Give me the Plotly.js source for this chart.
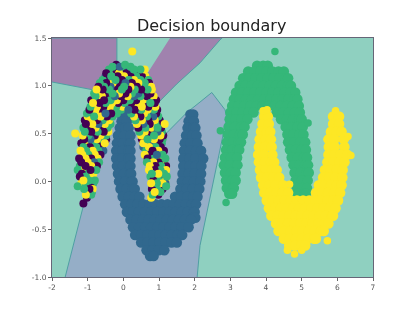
<!DOCTYPE html>
<html><head><meta charset="utf-8">
<script src="https://cdn.plot.ly/plotly-3.0.1.min.js"></script>
<style>html,body{margin:0;padding:0;background:#fff}#c{width:415px;height:312px;filter:blur(0.4px)}</style>
</head><body><div id="c"></div>
<script>
const xTicks=[-2,-1,0,1,2,3,4,5,6,7];
const yTicks=[-1,-0.5,0,0.5,1,1.5];
const yTickText=['-1.0','-0.5','0.0','0.5','1.0','1.5'];
const regionLeftX=[-2,-0.18,-0.18,-0.5,-0.88,-2];
const regionLeftY=[1.5,1.5,1.2,1.08,0.96,1.04];
const regionRightX=[1.31,2.77,2.71,2.15,1.5,0.97,0.69];
const regionRightY=[1.5,1.5,1.48,1.24,1.02,0.82,1.14];
const regionLowX=[-1.63,-1.13,-0.85,-0.5,0.3,0.9,1.17,1.78,2.15,2.48,2.85,2.9,2.62,2.15,2.07];
const regionLowY=[-1,-0.27,0.3,0.82,0.9,0.75,0.49,0.72,0.83,0.93,0.75,0.67,0.17,-0.67,-1];
// rows: first value is y, the others are x
const blueRows=[
[0.7,-0.05,0.08,1.88,1.96],[0.63,-0.05,0.1,1.83,1.98],[0.56,-0.1,0.05,0.15,1.8,1.97,2.02],
[0.48,-0.15,0.02,0.2,1.76,1.93,2.05],[0.4,-0.18,-0.01,0.16,0.2,1.72,1.89,2.08],
[0.32,-0.2,-0.03,0.14,0.2,1.7,1.87,2.04,2.18],[0.24,-0.2,-0.03,0.14,0.2,1.68,1.85,2.02,2.24],
[0.16,-0.18,-0.01,0.16,0.2,1.68,1.85,2.02,2.19],[0.08,-0.15,0.02,0.19,0.22,1.66,1.83,2,2.18],
[0,-0.12,0.05,0.22,0.26,1.64,1.81,1.98,2.16],[-0.08,-0.08,0.09,0.26,0.32,1.6,1.77,1.94,2.13],
[-0.16,-0.02,0.15,0.32,0.45,1.45,1.62,1.79,1.96,2.08],
[-0.24,0.05,0.22,0.39,0.56,0.73,0.9,1.07,1.24,1.41,1.58,1.75,1.92,2.04],
[-0.32,0.1,0.27,0.44,0.61,0.78,0.95,1.12,1.29,1.46,1.63,1.8,1.97,2],
[-0.38,1.95,2.02],
[-0.4,0.2,0.37,0.54,0.71,0.88,1.05,1.22,1.39,1.56,1.73,1.9],
[-0.48,0.27,0.44,0.61,0.78,0.95,1.12,1.29,1.46,1.63,1.83],
[-0.56,0.33,0.5,0.67,0.84,1.01,1.18,1.35,1.52,1.65],
[-0.64,0.5,0.67,0.84,1.01,1.18,1.35,1.5],[-0.72,0.65,0.82,0.99,1.15],[-0.78,0.75,0.85]];
const greenRows=[
[1.21,3.75,3.92,4.05],[1.15,3.5,3.67,3.84,4.01,4.18,4.35,4.5],
[1.08,3.36,3.53,3.7,3.87,4.04,4.21,4.38,4.55,4.62],[1,3.26,3.43,3.6,3.77,3.94,4.11,4.28,4.45,4.62,4.7],
[0.93,3.16,3.33,3.5,3.67,3.84,4.01,4.18,4.35,4.52,4.69,4.82],
[0.86,3.1,3.27,3.44,3.61,3.78,3.95,4.12,4.29,4.46,4.63,4.8,4.88],
[0.79,3.05,3.22,3.39,3.56,3.73,3.9,4.07,4.24,4.41,4.58,4.75,4.92],
[0.72,3,3.17,3.34,3.51,3.65,4.3,4.47,4.64,4.81,4.95],[0.65,2.98,3.15,3.32,3.48,4.42,4.59,4.76,4.93,5],
[0.57,2.95,3.12,3.3,3.4,4.55,4.72,4.89,5.03],[0.49,2.93,3.1,3.27,3.35,4.6,4.77,4.94,5.05],
[0.41,2.9,3.07,3.24,3.3,4.62,4.79,4.96,5.1],[0.33,2.88,3.05,3.2,3.25,4.67,4.84,5,5.12],
[0.25,2.85,3.02,3.19,4.72,4.89,5.06,5.15],[0.17,2.82,2.99,3.16,3.2,4.77,4.94,5.1,5.18],
[0.09,2.85,3.02,3.15,4.8,4.97,5.14,5.2],[0.01,2.88,3.05,3.15,4.83,5,5.17],
[-0.07,2.9,3.07,3.1,4.86,5.03,5.15],[-0.13,2.97,3.05,4.9,5.07,5.12]];
const greenOutliers=[[1.36,4.25],[0.61,5.18],[0.53,2.72],[-0.17,4.82],[-0.22,2.88]];
const yellowRows=[
[0.68,3.95,4.05,5.88,6.05],[0.6,3.9,4.08,5.88,6.05],
[0.52,3.86,4.03,4.12,5.82,5.98,6.12],[0.44,3.82,3.99,4.14,5.75,5.92,6.18],
[0.36,3.8,3.97,4.16,5.76,5.93,6.2],[0.28,3.78,3.95,4.18,5.75,5.92,6.09,6.28],
[0.2,3.8,3.97,4.14,4.23,5.72,5.89,6.06,6.2],[0.12,3.83,4,4.17,4.3,5.65,5.82,5.99,6.15],
[0.04,3.86,4.03,4.2,4.37,5.6,5.77,5.94,6.14],[-0.04,3.92,4.09,4.26,4.48,5.48,5.65,5.82,5.99,6.12],
[-0.12,3.95,4.12,4.29,4.46,4.62,5.4,5.57,5.74,5.91,6.08],
[-0.2,4.02,4.19,4.36,4.53,4.7,4.87,5.04,5.21,5.38,5.55,5.72,5.89,6.02],
[-0.28,4.08,4.25,4.42,4.59,4.76,4.93,5.1,5.27,5.44,5.61,5.78,5.95],
[-0.36,4.15,4.32,4.49,4.66,4.83,5,5.17,5.34,5.51,5.68,5.85,5.88],
[-0.44,4.28,4.45,4.62,4.79,4.96,5.13,5.3,5.47,5.64,5.75],
[-0.52,4.35,4.52,4.69,4.86,5.03,5.2,5.37,5.54,5.62],
[-0.6,4.5,4.67,4.84,5.01,5.18,5.35,5.4],[-0.67,4.65,4.82,4.99,5.1]];
const yellowOutliers=[[0.74,3.92],[0.75,4.03],[0.74,5.95],[0.47,6.3],[0.27,6.38],[-0.76,4.8],[-0.72,4.6],[-0.72,5.0],[-0.62,5.72],[-0.03,4.66]];
// mixed arch: y, then pairs of x and class
const mixedRows=[
[1.22,-0.2,0,0.05,2],[1.36,0.25,3],
[1.2,-0.1,1,-0.3,2,0.2,2],
[1.17,-0.4,2,-0.22,0,-0.05,2,0.12,1,0.3,2,0.48,2,0.6,3],
[1.13,-0.48,0,-0.12,3,0.08,0,0.42,0,0.56,1],
[1.1,-0.5,1,-0.34,2,-0.16,0,0.02,3,0.2,0,0.36,2,0.52,0,0.62,3],
[1.06,-0.58,2,-0.4,0,-0.22,2,-0.04,0,0.15,2,0.3,3,0.48,2,0.7,2],
[1.03,-0.66,2,-0.48,0,-0.3,3,-0.12,2,0.06,1,0.24,0,0.42,3,0.6,2,0.72,0],
[0.99,-0.7,0,-0.54,2,-0.36,1,-0.16,0,0.02,2,0.2,3,0.38,0,0.56,2,0.78,3],
[0.96,-0.75,3,-0.58,0,-0.4,2,-0.22,0,-0.04,2,0.14,0,0.32,2,0.5,0,0.68,2,0.8,3],
[0.92,-0.82,2,-0.64,3,-0.48,0,-0.3,2,-0.12,3,0.06,0,0.24,2,0.42,1,0.6,0,0.76,0],
[0.89,-0.78,2,-0.6,3,-0.42,0,-0.24,1,-0.06,0,0.12,3,0.3,1,0.48,2,0.66,0,0.85,3],
[0.85,-0.9,0,-0.72,2,-0.54,0,-0.36,2,-0.18,3,0,0,0.18,2,0.36,0,0.54,3,0.72,2,0.92,0],
[0.82,-0.85,3,-0.67,0,-0.5,2,-0.32,3,-0.14,0,0.04,2,0.22,0,0.4,3,0.58,0,0.76,2,0.88,0],
[0.78,-0.92,2,-0.74,3,-0.56,0,-0.38,3,-0.2,2,-0.02,3,0.16,0,0.34,2,0.52,3,0.7,0,0.9,3],
[0.75,-0.95,0,-0.78,3,-0.6,0,-0.42,2,-0.24,3,-0.06,2,0.14,1,0.32,0,0.5,2,0.68,3,0.86,2,0.95,0],
[0.71,-1.02,2,-0.86,0,-0.68,3,-0.5,1,-0.34,0,-0.18,2,0.22,2,0.4,0,0.58,3,0.76,1,0.92,0],
[0.68,-1,3,-0.82,2,-0.64,3,-0.46,0,-0.3,2,0.3,3,0.48,0,0.66,2,0.84,1,0.98,2],
[0.64,-1.08,0,-0.92,3,-0.74,0,-0.58,2,-0.4,3,0.34,2,0.52,3,0.7,0,0.88,3,1.02,0],
[0.6,-1.05,0,-0.87,3,-0.7,1,-0.52,3,-0.36,2,0.38,3,0.56,1,0.74,0,0.9,2,1.16,3],
[0.56,-1.12,2,-0.96,0,-0.78,3,-0.6,0,-0.44,2,0.42,0,0.62,2,0.8,3,0.96,2,1.06,0],
[0.52,-1.08,2,-0.9,0,-0.72,2,-0.55,0,-0.42,3,0.45,2,0.6,3,0.78,0,0.96,1,1.08,2],
[0.48,-1.14,3,-0.98,2,-0.8,0,-0.64,3,-0.48,2,0.5,3,0.68,0,0.86,2,1.04,3,1.12,0],
[0.44,-1.1,0,-0.92,1,-0.74,3,-0.58,2,-0.48,0,0.52,0,0.68,2,0.86,3,1.02,0,1.1,2],
[0.5,-1.35,3],
[0.4,-1.18,0,-1.02,3,-0.84,2,-0.68,0,-0.52,3,0.56,3,0.74,1,0.92,0,1.08,2],
[0.36,-1.12,2,-0.94,0,-0.76,2,-0.6,0,0.56,1,0.72,3,0.9,2,1.05,0],
[0.32,-1.2,3,-1.04,2,-0.86,3,-0.7,2,-0.56,1,0.64,2,0.82,0,0.98,3,1.14,0],
[0.28,-1.15,3,-0.98,2,-0.8,3,-0.64,0,0.6,3,0.76,0,0.94,1,1.1,2],
[0.24,-1.24,0,-1.06,3,-0.9,0,-0.72,3,0.68,0,0.86,2,1.02,3,1.18,2],
[0.2,-1.18,0,-1,3,-0.82,1,-0.68,2,0.66,2,0.84,3,1,0,1.14,3],
[0.16,-1.22,2,-1.06,0,-0.9,3,-0.74,0,0.74,3,0.9,0,1.06,2,1.2,0],
[0.12,-1.28,2,-1.1,3,-0.92,0,-0.76,2,0.72,3,0.88,0,1.04,2,1.2,3],
[0.08,-1.16,0,-1,2,-0.84,3,0.8,2,0.98,3,1.14,2],
[0.05,-1.22,0,-1.05,2,-0.88,3,0.76,2,0.92,1,1.08,0,1.22,2],
[0.01,-1.12,3,-0.96,2,-0.8,2,0.84,0,1,2,1.18,3],
[-0.02,-1.18,3,-1,0,-0.84,2,0.78,3,0.94,2,1.1,3,1.18,1],
[-0.05,-1.28,2,-1.06,2,-0.92,0,0.86,2,1.04,0,1.2,2],
[-0.08,-1.1,2,-0.95,0,-0.86,3,0.8,0,0.95,2,1.1,0],
[-0.11,-1.02,1,-0.88,2,0.88,3,1.04,2],
[-0.14,-1.05,3,-0.9,2,0.82,2,0.98,0],[-0.17,-1.02,0,0.78,3],[-0.23,-1.12,0]];
const classColors=['#440154','#31688e','#35b779','#fde725'];

function expand(rows){const x=[],y=[];rows.forEach(r=>r.slice(1).forEach(v=>{x.push(v);y.push(r[0]);}));return {x,y};}
function expandMixed(rows){const pts=[];rows.forEach(r=>{for(let i=1;i<r.length;i+=2)pts.push([r[i],r[0],classColors[r[i+1]]]);});
 // draw order only: step through the points so overlaps are not row by row
 const x=[],y=[],c=[];const n=pts.length;let step=37;while(n%step===0)step+=2;
 for(let i=0;i<n;i++){const p=pts[(i*step)%n];x.push(p[0]);y.push(p[1]);c.push(p[2]);}
 return {x,y,c};}
function region(x,y,color){return {type:'scatter',mode:'lines',x:x,y:y,fill:'toself',fillcolor:color,line:{color:'#4f9fa3',width:1},hoverinfo:'skip'};}
function dots(d,color,size){return {type:'scatter',mode:'markers',x:d.x,y:d.y,marker:{size:size,color:color,line:{width:0}}};}
const m=expandMixed(mixedRows);
const traces=[
 region(regionLeftX,regionLeftY,'#a082ae'),
 region(regionRightX,regionRightY,'#a082ae'),
 region(regionLowX,regionLowY,'#95aec7'),
 dots(expand(blueRows),classColors[1],10.5),
 dots(expand(greenRows),classColors[2],10.5),
 dots(expand(greenOutliers),classColors[2],7.5),
 dots(expand(yellowRows),classColors[3],10.5),
 dots(expand(yellowOutliers),classColors[3],7.5),
 {type:'scatter',mode:'markers',x:m.x,y:m.y,marker:{size:8,color:m.c,line:{width:0}}}
];
const layout={
 width:415,height:312,showlegend:false,paper_bgcolor:'#fff',plot_bgcolor:'#8fd0c0',
 margin:{l:52,r:42,t:38,b:35},
 title:{text:'Decision boundary',font:{family:'DejaVu Sans',size:16,color:'#222'},x:0.51,xanchor:'center',y:0.918,yanchor:'middle'},
 font:{family:'DejaVu Sans',size:7.5,color:'#555'},
 xaxis:{range:[-2,7],tickmode:'array',tickvals:xTicks,ticktext:xTicks.map(String),ticks:'outside',ticklen:3,tickwidth:1,tickcolor:'#666',showgrid:false,zeroline:false,showline:true,mirror:true,linecolor:'#667',linewidth:1},
 yaxis:{range:[-1,1.5],tickmode:'array',tickvals:yTicks,ticktext:yTickText,ticks:'outside',ticklen:3,tickwidth:1,tickcolor:'#666',showgrid:false,zeroline:false,showline:true,mirror:true,linecolor:'#667',linewidth:1}
};
Plotly.newPlot('c',traces,layout,{displayModeBar:false,staticPlot:true});
</script></body></html>
